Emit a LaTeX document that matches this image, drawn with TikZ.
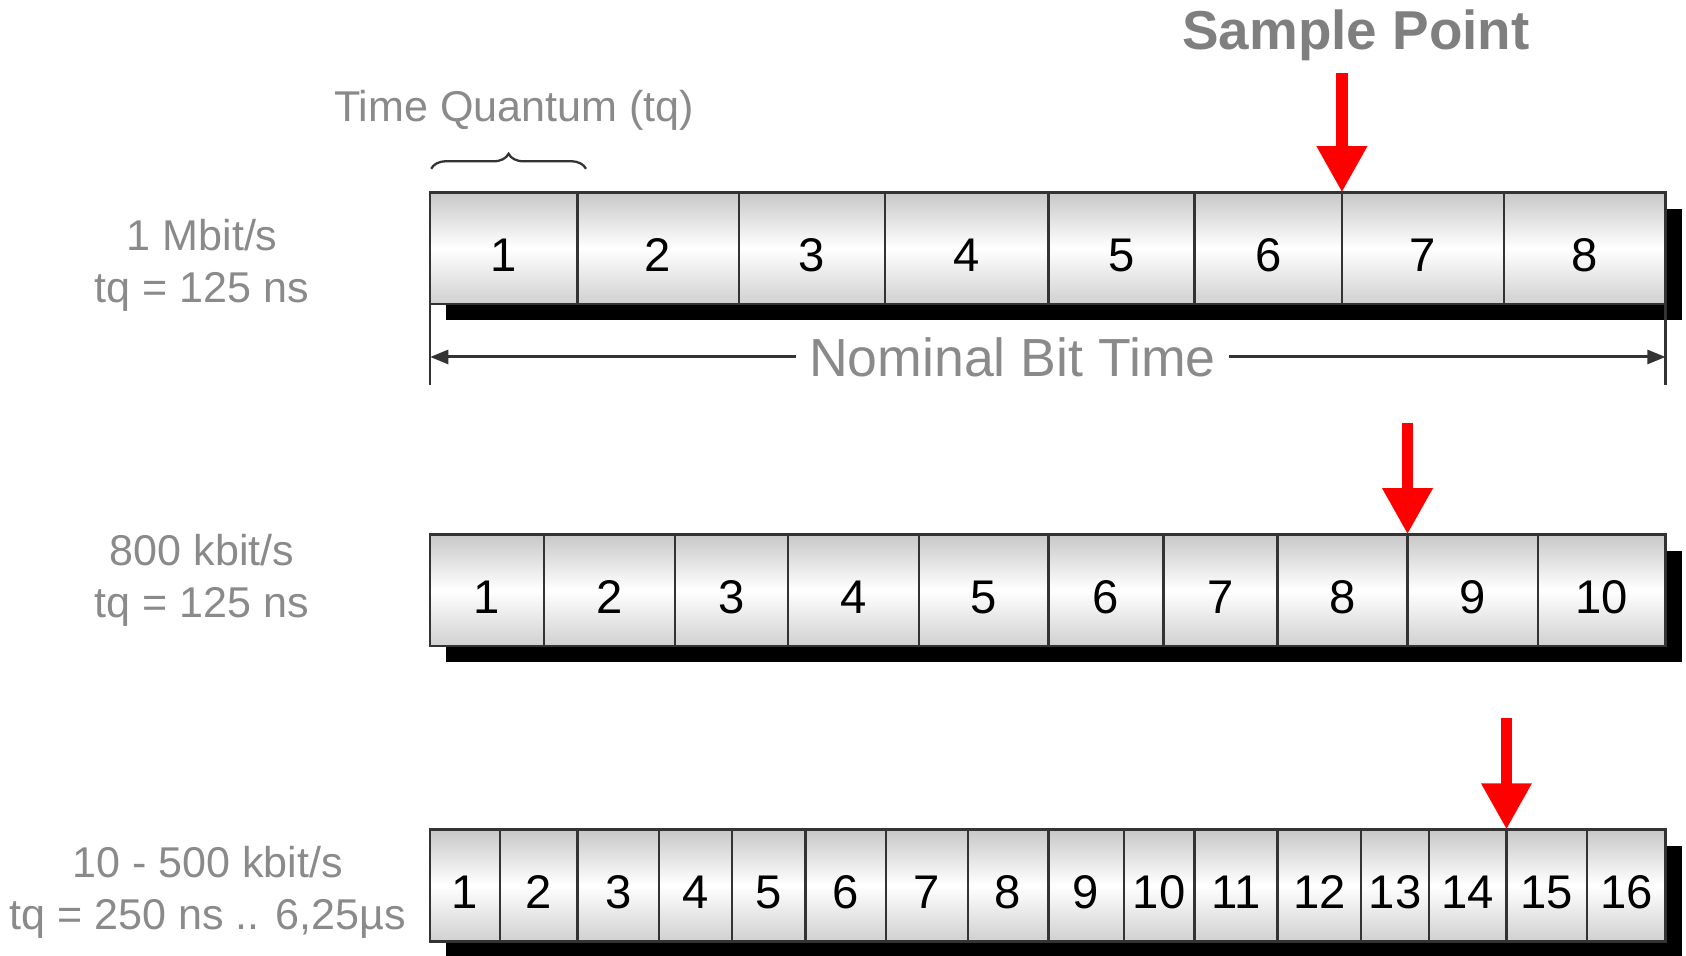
\documentclass[tikz,border=0pt]{standalone}
\usepackage{fontspec}
\setmainfont{Liberation Sans}
\usetikzlibrary{arrows.meta,positioning,calc,backgrounds,decorations.pathreplacing}
\definecolor{labelgray}{HTML}{8A8A8A}
\definecolor{titlegray}{HTML}{7F7F7F}
\definecolor{cellline}{HTML}{333333}
\definecolor{cellshade}{HTML}{C8C8C8}
\definecolor{pointred}{HTML}{FF0000}

\begin{document}
\begin{tikzpicture}[
    cellbox/.style={
      draw=cellline, line width=0.6pt,
      top color=cellshade, bottom color=cellshade!85, middle color=white,
      minimum height=1.04cm, inner sep=0pt, outer sep=0pt,
      text height=0.43cm, text depth=0cm,
      font=\fontsize{12.5}{15}\selectfont, text=black,
    },
    ratelbl/.style={font=\fontsize{11.4}{13.7}\selectfont, text=labelgray, align=center},
    spointer/.style={pointred, line width=0.108cm, -{Triangle[length=0.43cm, width=0.44cm]}},
    dimarrow/.style={cellline, line width=0.8pt, -{Triangle[length=0.17cm, width=0.13cm]}},
    shadowbox/.style={fill=black},
  ]
  \useasboundingbox (0,0) rectangle (15.68,8.89);

  % =================== ROW 1: 1 Mbit/s ===================
  \foreach \xl/\xr [count=\n] in {4.00/5.37, 5.37/6.87, 6.87/8.23, 8.23/9.75,
      9.75/11.11, 11.11/12.48, 12.48/13.99, 13.99/15.49}
    \node[cellbox, minimum width={(\xr-\xl)*1cm}] (ra\n) at ({(\xl+\xr)/2}, 6.58) {\n};
  \node[ratelbl] (ratea) at (1.88, 6.42) {1 Mbit/s\\tq = 125 ns};

  % Time quantum brace
  \node[font=\fontsize{11.4}{13.7}\selectfont, text=labelgray] (tqlbl) at (4.78, 7.86) {Time Quantum (tq)};
  \coordinate (tqa) at (4.01, 7.32);
  \coordinate (tqb) at (5.45, 7.32);
  \draw[cellline, line width=0.6pt, decorate, decoration={brace, amplitude=0.14cm}] (tqa) -- (tqb);

  % Sample point
  \node[font=\fontsize{14.5}{17}\selectfont\bfseries, text=titlegray] (sptitle) at (12.61, 8.56) {Sample Point};
  \coordinate (spa) at ($(ra7.north west)+(0,1.11)$);
  \draw[spointer] (spa) -- (ra7.north west);

  % Nominal bit time
  \node[font=\fontsize{14.2}{17}\selectfont, text=labelgray] (nbt) at (9.415, 5.57) {Nominal Bit Time};
  \coordinate (nbl) at (ra1.south west |- nbt);
  \coordinate (nbr) at (ra8.south east |- nbt);
  \draw[cellline, line width=0.6pt] (ra1.south west) -- ++(0,-0.75);
  \draw[cellline, line width=0.6pt] (ra8.south east) -- ++(0,-0.75);
  \draw[dimarrow] (nbt.west) -- (nbl);
  \draw[dimarrow] (nbt.east) -- (nbr);

  % =================== ROW 2: 800 kbit/s ===================
  \foreach \xl/\xr [count=\n] in {4.00/5.06, 5.06/6.28, 6.28/7.33, 7.33/8.55, 8.55/9.75,
      9.75/10.82, 10.82/11.88, 11.88/13.09, 13.09/14.30, 14.30/15.49}
    \node[cellbox, minimum width={(\xr-\xl)*1cm}] (rb\n) at ({(\xl+\xr)/2}, 3.40) {\n};
  \node[ratelbl] (rateb) at (1.88, 3.49) {800 kbit/s\\tq = 125 ns};
  \coordinate (spb) at ($(rb9.north west)+(0,1.04)$);
  \draw[spointer] (spb) -- (rb9.north west);

  % =================== ROW 3: 10 - 500 kbit/s ===================
  \foreach \xl/\xr [count=\n] in {4.00/4.65, 4.65/5.37, 5.37/6.13, 6.13/6.81, 6.81/7.49,
      7.49/8.24, 8.24/9.00, 9.00/9.75, 9.75/10.45, 10.45/11.11, 11.11/11.88,
      11.88/12.66, 12.66/13.29, 13.29/14.01, 14.01/14.76, 14.76/15.49}
    \node[cellbox, minimum width={(\xr-\xl)*1cm}] (rc\n) at ({(\xl+\xr)/2}, 0.655) {\n};
  \node[ratelbl] (ratec) at (1.93, 0.59) {10 - 500 kbit/s\\tq = 250 ns .. 6,25µs};
  \coordinate (spc) at ($(rc15.north west)+(0,1.04)$);
  \draw[spointer] (spc) -- (rc15.north west);

  % Shadows behind the rows
  \begin{scope}[on background layer]
    \fill[shadowbox] ($(ra1.south west)+(0.15,-0.15)$) rectangle ($(ra8.north east)+(0.15,-0.15)$);
    \fill[shadowbox] ($(rb1.south west)+(0.15,-0.15)$) rectangle ($(rb10.north east)+(0.15,-0.15)$);
    \fill[shadowbox] ($(rc1.south west)+(0.15,-0.15)$) rectangle ($(rc16.north east)+(0.15,-0.15)$);
  \end{scope}

\end{tikzpicture}
\end{document}
